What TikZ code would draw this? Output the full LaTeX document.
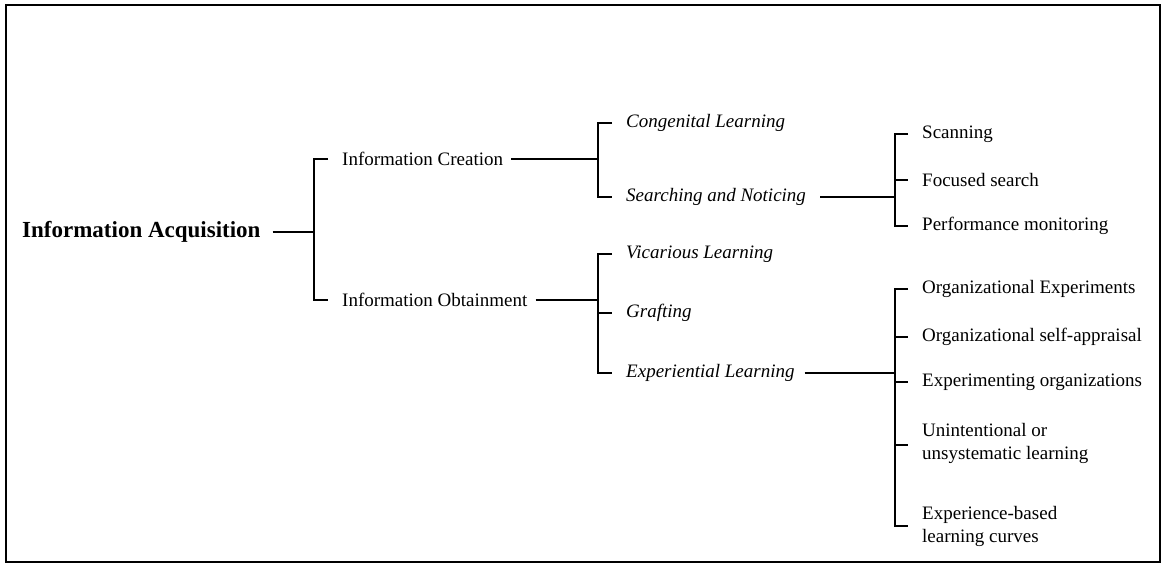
\documentclass[tikz,border=0pt]{standalone}
\usepackage{fontspec}
\setmainfont{Liberation Serif}
\begin{document}
\begin{tikzpicture}[x=1pt,y=-1pt,
  lbl/.style={anchor=west,inner sep=0pt,font=\fontsize{19}{23}\selectfont,align=left},
  ilbl/.style={lbl,font=\fontsize{19}{23}\selectfont\itshape},
  title/.style={anchor=west,inner sep=0pt,font=\fontsize{23}{27}\selectfont\bfseries},
  conn/.style={line width=1.6pt},
  frame/.style={line width=2pt}]
\useasboundingbox (0,0) rectangle (1165,567);
\draw[frame] (6,5) rectangle (1160,562);
% level 0
\node[title] (acq) at (22,232) {Information Acquisition};
% level 1
\node[lbl] (cre) at (342,159) {Information Creation};
\node[lbl] (obt) at (342,300) {Information Obtainment};
% level 2
\node[ilbl] (con) at (626,123) {Congenital Learning};
\node[ilbl] (sea) at (626,197) {Searching and Noticing};
\node[ilbl] (vic) at (626,254) {Vicarious Learning};
\node[ilbl] (gra) at (626,313) {Grafting};
\node[ilbl] (exl) at (626,373) {Experiential Learning};
% level 3
\node[lbl] (scan) at (922,134) {Scanning};
\node[lbl] (foc) at (922,180) {Focused search};
\node[lbl] (perf) at (922,226) {Performance monitoring};
\node[lbl] (oe) at (922,289) {Organizational Experiments};
\node[lbl] (osa) at (922,337) {Organizational self-appraisal};
\node[lbl] (eo) at (922,382) {Experimenting organizations};
\node[lbl] (un) at (922,443) {Unintentional or\\unsystematic learning};
\node[lbl] (eb) at (922,526) {Experience-based\\learning curves};
% bracket spines
\coordinate (b1) at (314,0);
\coordinate (b2) at (598,0);
\coordinate (b3) at (895,0);
% acquisition bracket
\draw[conn] ([xshift=12pt]acq.east) -- (acq.east -| b1);
\draw[conn] ([xshift=-14pt]cre.west) -- (cre.west -| b1) -- (obt.west -| b1) -- ([xshift=-14pt]obt.west);
% creation bracket
\draw[conn] ([xshift=8pt]cre.east) -- (cre.east -| b2);
\draw[conn] ([xshift=-14pt]con.west) -- (con.west -| b2) -- (sea.west -| b2) -- ([xshift=-14pt]sea.west);
% obtainment bracket
\draw[conn] ([xshift=8pt]obt.east) -- (obt.east -| b2);
\draw[conn] ([xshift=-14pt]vic.west) -- (vic.west -| b2) -- (exl.west -| b2) -- ([xshift=-14pt]exl.west);
\draw[conn] (gra.west -| b2) -- ([xshift=-14pt]gra.west);
% searching bracket
\draw[conn] ([xshift=14pt]sea.east) -- (sea.east -| b3);
\draw[conn] ([xshift=-14pt]scan.west) -- (scan.west -| b3) -- (perf.west -| b3) -- ([xshift=-14pt]perf.west);
\draw[conn] (foc.west -| b3) -- ([xshift=-14pt]foc.west);
% experiential bracket
\draw[conn] ([xshift=10pt]exl.east) -- (exl.east -| b3);
\draw[conn] ([xshift=-14pt]oe.west) -- (oe.west -| b3) -- (eb.west -| b3) -- ([xshift=-14pt]eb.west);
\draw[conn] (osa.west -| b3) -- ([xshift=-14pt]osa.west);
\draw[conn] (eo.west -| b3) -- ([xshift=-14pt]eo.west);
\draw[conn] ([yshift=-2pt]un.west -| b3) -- ([xshift=-14pt,yshift=-2pt]un.west);
\end{tikzpicture}
\end{document}
